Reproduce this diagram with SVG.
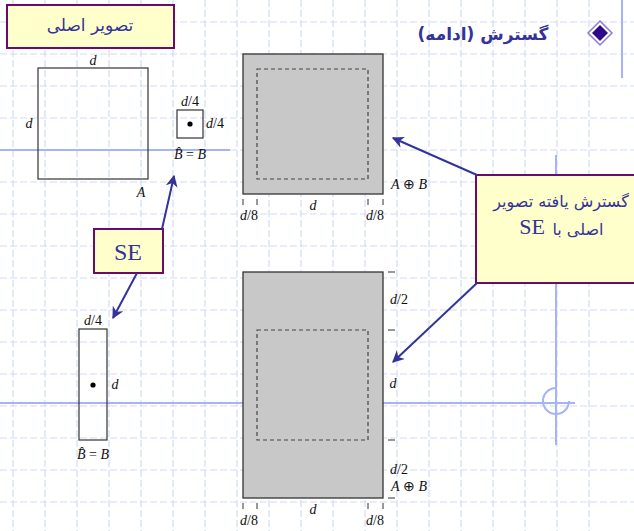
<svg xmlns="http://www.w3.org/2000/svg" width="634" height="531" viewBox="0 0 634 531">
<style>
.grid{stroke:#D2DAF8;stroke-width:1.2;stroke-dasharray:7 3;fill:none}
.solid{stroke:#A4B4F4;stroke-width:2;fill:none}
.callout{fill:#FFFFCC;stroke:#6A0A6A;stroke-width:2}
.fa{font-family:"DejaVu Sans",sans-serif;fill:#333399}
.m{font-family:"Liberation Serif",serif;font-size:14px;fill:#111}
.i{font-style:italic}
.box{fill:none;stroke:#333;stroke-width:1.2}
.grey{fill:#C8C8C8;stroke:#333;stroke-width:1.3}
.dash{fill:none;stroke:#444;stroke-width:1.2;stroke-dasharray:4 3}
.tick{stroke:#333;stroke-width:1}
.conn{stroke:#333399;stroke-width:2;fill:none;marker-end:url(#ah)}
</style>
<defs>
<marker id="ah" viewBox="0 0 10 10" refX="9" refY="5" markerWidth="6" markerHeight="6" orient="auto" markerUnits="strokeWidth">
<path d="M0,0 L10,5 L0,10 L3,5 z" fill="#333399"/>
</marker>
</defs>
<rect width="634" height="531" fill="#fff"/>
<g id="grid">
<path class="grid" d="M13,0V531M45,0V531M77,0V531M109,0V531M141,0V531M173,0V531M205,0V531M237,0V531M269,0V531M301,0V531M333,0V531M365,0V531M397,0V531M429,0V531M461,0V531M493,0V531M525,0V531M557,0V531M589,0V531"/>
<path class="grid" d="M0,22H634M0,54H634M0,86H634M0,118H634M0,150H634M0,182H634M0,214H634M0,246H634M0,278H634M0,310H634M0,342H634M0,374H634M0,406H634M0,438H634M0,470H634M0,502H634"/>
<path class="solid" d="M0,150H230M622,0V78M556,155V445M0,403H575"/>
<path class="solid" d="M556,388 A13,13 0 1 0 569,401" stroke-width="1.5"/>
</g>
<g id="title">
<text class="fa" x="483" y="40" font-size="17" font-weight="bold" text-anchor="middle" direction="rtl">گسترش (ادامه)</text>
<polygon points="600,21 612,33 600,45 588,33" fill="#fff" stroke="#8C7CD8" stroke-width="1.5"/>
<polygon points="600,25 608,33 600,41 592,33" fill="#2A0A88"/>
</g>
<g id="label-original">
<rect class="callout" x="7" y="5" width="167" height="43"/>
<text class="fa" x="90" y="31" font-size="17" text-anchor="middle" direction="rtl">تصویر اصلی</text>
</g>
<g id="set-A">
<rect class="box" x="38" y="68" width="110" height="111"/>
<text class="m i" x="93" y="65" text-anchor="middle">d</text>
<text class="m i" x="29" y="128" text-anchor="middle">d</text>
<text class="m i" x="141" y="197" text-anchor="middle">A</text>
</g>
<g id="se-B1">
<rect class="box" x="177" y="110" width="26" height="28"/>
<circle cx="190" cy="124" r="2.6" fill="#000"/>
<text class="m" x="190" y="106" text-anchor="middle"><tspan class="i">d</tspan>/4</text>
<text class="m" x="206" y="128"><tspan class="i">d</tspan>/4</text>
<text class="m" x="190" y="159" text-anchor="middle"><tspan class="i">B̂</tspan> = <tspan class="i">B</tspan></text>
</g>
<g id="dilation-1">
<rect class="grey" x="243" y="54" width="140" height="140"/>
<rect class="dash" x="257" y="69" width="111" height="110"/>
<path class="tick" d="M243,199V205M257,199V205M368,199V205M383,199V205"/>
<text class="m" x="249" y="220" text-anchor="middle"><tspan class="i">d</tspan>/8</text>
<text class="m i" x="313" y="210" text-anchor="middle">d</text>
<text class="m" x="375" y="220" text-anchor="middle"><tspan class="i">d</tspan>/8</text>
<text class="m" x="391" y="189"><tspan class="i">A</tspan> ⊕ <tspan class="i">B</tspan></text>
</g>
<g id="label-dilated">
<rect class="callout" x="476" y="175" width="170" height="108"/>
<text class="fa" x="561" y="207" font-size="16" text-anchor="middle" direction="rtl">گسترش یافته تصویر</text>
<text class="fa" x="578" y="235" font-size="16" text-anchor="middle" direction="rtl">اصلی با</text>
<text x="532" y="234" font-family="Liberation Serif,serif" font-size="22" fill="#333399" text-anchor="middle">SE</text>
</g>
<g id="label-SE">
<rect class="callout" x="94" y="229" width="69" height="44"/>
<text x="128" y="260" font-family="Liberation Serif,serif" font-size="24" fill="#333399" text-anchor="middle">SE</text>
</g>
<g id="se-B2">
<rect class="box" x="79" y="329" width="28" height="111"/>
<circle cx="93" cy="385" r="2.6" fill="#000"/>
<text class="m" x="93" y="325" text-anchor="middle"><tspan class="i">d</tspan>/4</text>
<text class="m i" x="115" y="389" text-anchor="middle">d</text>
<text class="m" x="93" y="459" text-anchor="middle"><tspan class="i">B̂</tspan> = <tspan class="i">B</tspan></text>
</g>
<g id="dilation-2">
<rect class="grey" x="243" y="272" width="140" height="226"/>
<rect class="dash" x="257" y="330" width="111" height="110"/>
<path class="tick" d="M388,272H395M388,330H395M388,440H395M388,498H395"/>
<path class="tick" d="M243,503V509M257,503V509M368,503V509M383,503V509"/>
<text class="m" x="399" y="304" text-anchor="middle"><tspan class="i">d</tspan>/2</text>
<text class="m i" x="393" y="388" text-anchor="middle">d</text>
<text class="m" x="399" y="474" text-anchor="middle"><tspan class="i">d</tspan>/2</text>
<text class="m" x="391" y="491"><tspan class="i">A</tspan> ⊕ <tspan class="i">B</tspan></text>
<text class="m" x="249" y="525" text-anchor="middle"><tspan class="i">d</tspan>/8</text>
<text class="m i" x="313" y="514" text-anchor="middle">d</text>
<text class="m" x="375" y="525" text-anchor="middle"><tspan class="i">d</tspan>/8</text>
</g>
<g id="connectors">
<path class="conn" d="M162,229L174,176"/>
<path class="conn" d="M137,273L113,318"/>
<path class="conn" d="M477,175L393,138"/>
<path class="conn" d="M477,283L393,362"/>
</g>
</svg>
